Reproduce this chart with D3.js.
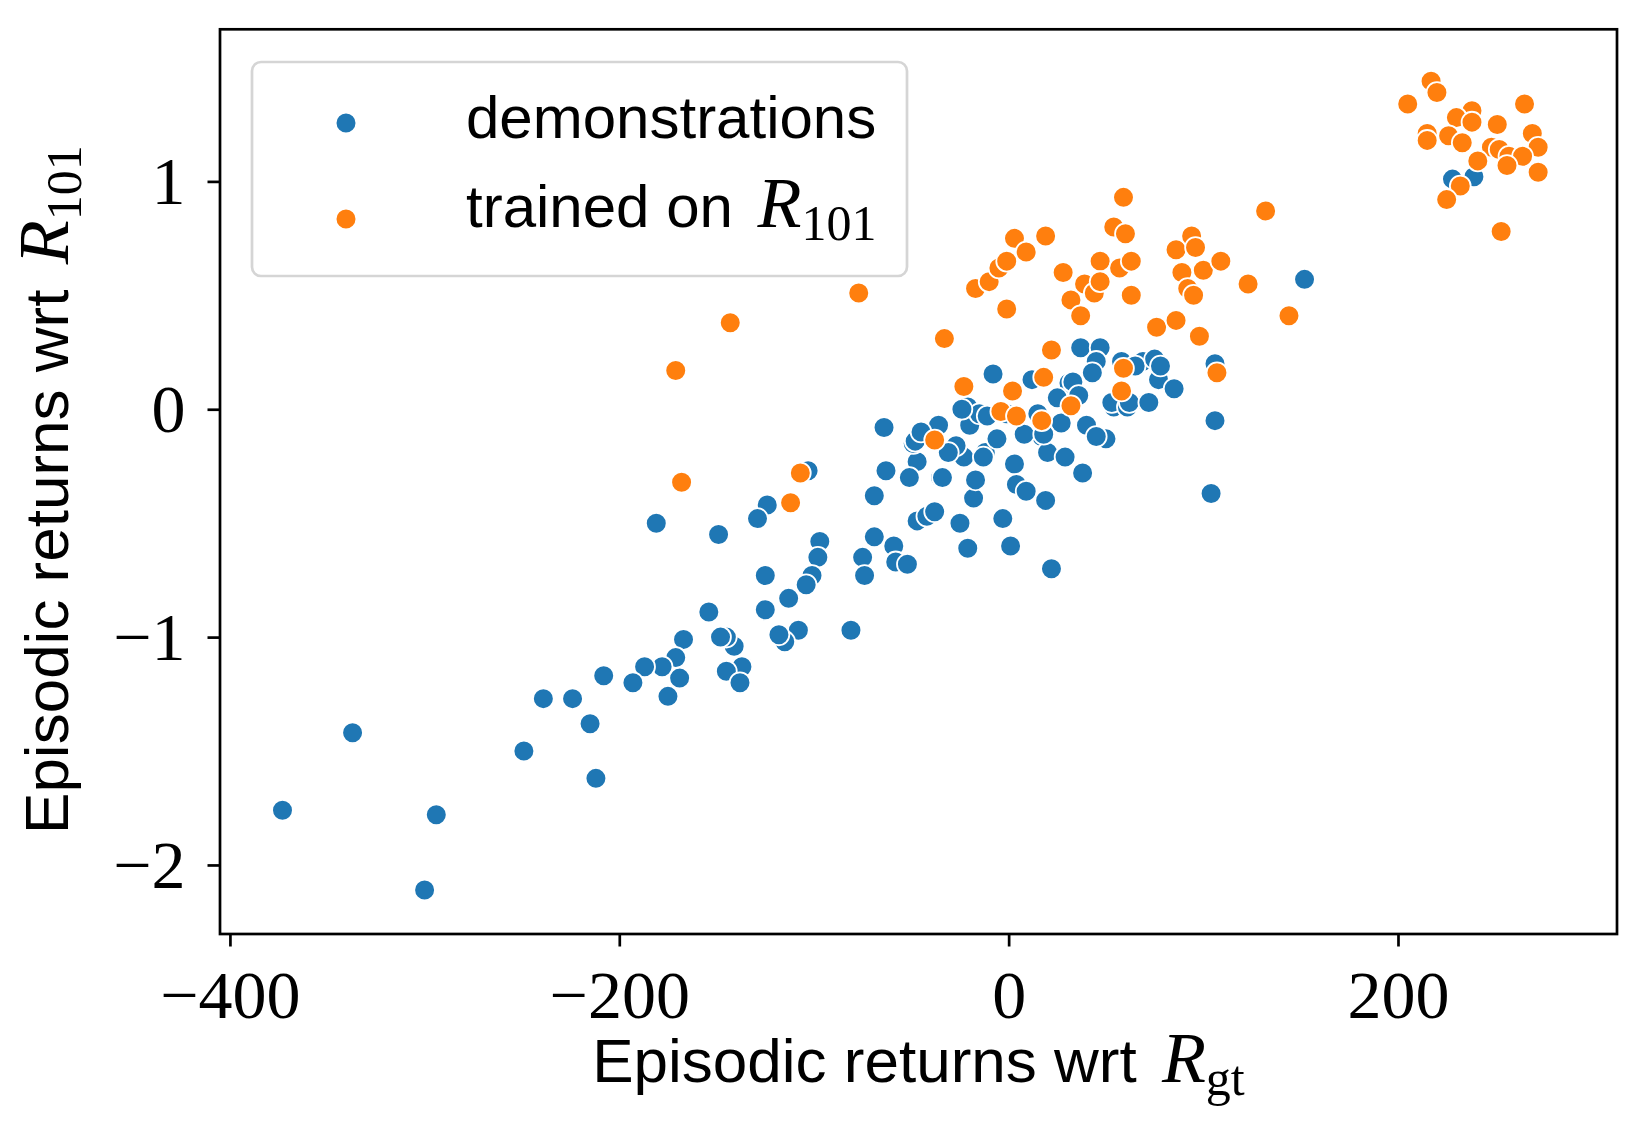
<!DOCTYPE html>
<html>
<head>
<meta charset="utf-8">
<script src="https://cdn.jsdelivr.net/npm/d3@7"></script>
<style>
  html, body { margin: 0; padding: 0; background: #fff; }
  svg { display: block; }
</style>
</head>
<body>
<svg id="chart" width="1644" height="1135"></svg>
<script>
// ---- Data ----
const demoGt = [
  -373, -337, -294, -300, -249, -239, -224, -215, -212, -208,
  -181, -149, -124, -129, -97, -98, -101, -104, -113, -125, -125, -154,
  -81, -108, -115, -118, -167, -141, -145, -148, -137, -145, -138, -169,
  -171, -178, -187, -193, -175, -75, -74, -69, -59, -58, -52, -47, -42,
  -38, -47, -35, -51, -49, -44, -36, -103,
  -64, -63, -69, -8, 37, 47, 45, 69, 77, 85, 71, 106, 106, 104, 38, 50,
  40, 54, 19, 22, 1, -3, -21, -18, -25, -48, -34, -23, -12, -20, -6, 3,
  4, 9, 17, 20, 29, 31, 45, 53, 61, -21, -15,
  -27, -31, -11, -1, 8, 12, 15, 25, 27, 33, 36, 43, 58, 62, 65, 72, 75,
  78, 18, -17, -13, -24, -45,
  152, 228, 239
];
const demo101 = [
  -1.76, -1.42, -1.78, -2.11, -1.50, -1.27, -1.27, -1.38, -1.62, -1.17,
  -0.50, -0.55, -0.42, -0.48, -0.58, -0.65, -0.73, -0.77, -0.83, -0.73, -0.88, -0.89,
  -0.97, -0.97, -1.02, -0.99, -1.01, -1.04, -1.00, -1.00, -1.13, -1.15, -1.20, -1.18,
  -1.09, -1.13, -1.13, -1.20, -1.26, -0.65, -0.73, -0.56, -0.60, -0.67, -0.68, -0.49, -0.47,
  -0.45, -0.23, -0.30, -0.30, -0.15, -0.10, -0.07, -0.27,
  -0.08, -0.27, -0.38, 0.155, 0.27, 0.27, 0.21, 0.21, 0.13, 0.09, 0.03, 0.20, -0.05, -0.37, -0.28, -0.13,
  -0.07, 0.01, -0.40, -0.70, -0.60, -0.48, -0.61, -0.39, -0.50, -0.14, -0.30, -0.21, -0.19, -0.07, -0.13, -0.24,
  -0.33, -0.36, -0.12, -0.19, -0.21, 0.115, -0.12, 0.03, 0.01, 0.01, -0.02,
  -0.16, -0.19, -0.03, -0.02, -0.11, 0.13, -0.02, 0.05, -0.06, 0.12, 0.06, 0.16, 0.21, 0.03, 0.19, 0.03, 0.22,
  0.19, -0.11, -0.31, -0.21, 0.00, -0.10,
  0.57, 1.01, 1.02
];
const trainedGt = [
  -171, -168, -143, -112, -107, -77, -33, -38, -23, -17, -10, -5, -1, -1,
  3, 9, 19, -4, 2, 4, 17, 18, 22, 28, 32, 32, 37, 39, 44, 47, 47, 54, 57,
  59, 60, 63, 63, 59, 58, 76, 86, 86, 89, 92, 94, 96, 95, 98, 100, 109,
  107, 123, 132, 144,
  217, 220, 205, 265, 238, 230, 238, 251, 215, 215, 226, 233, 269, 272,
  248, 252, 241, 257, 264, 256, 272, 232, 225, 253
];
const trained101 = [
  0.17, -0.32, 0.38, -0.41, -0.28, 0.51, 0.31, -0.135, 0.10, 0.53, 0.56, 0.62, 0.65, 0.44,
  0.75, 0.69, 0.76, -0.01, 0.08, -0.03, -0.05, 0.14, 0.26, 0.60, 0.48, 0.015, 0.41, 0.55, 0.51, 0.65, 0.56, 0.80, 0.62,
  0.93, 0.77, 0.65, 0.50, 0.18, 0.08, 0.36, 0.39, 0.70, 0.60, 0.53, 0.76, 0.71, 0.50, 0.32, 0.61, 0.65,
  0.16, 0.55, 0.87, 0.41,
  1.44, 1.39, 1.34, 1.34, 1.31, 1.28, 1.26, 1.25, 1.21, 1.18, 1.20, 1.17, 1.21, 1.15,
  1.15, 1.14, 1.09, 1.11, 1.11, 1.07, 1.04, 0.98, 0.92, 0.78
];
const xTicks = [-400, -200, 0, 200];
const yTicks = [-2, -1, 0, 1];
const seriesNames = ["demonstrations", "trained on"];
const seriesColors = ["#1f77b4", "#ff7f0e"];

// ---- Layout ----
const svg = d3.select("#chart");
const plot = { left: 220, right: 1617, top: 29.3, bottom: 934 };
const x = d3.scaleLinear().domain([-405.1, 312.5]).range([plot.left, plot.right]);
const y = d3.scaleLinear().domain([-2.303, 1.6675]).range([plot.bottom, plot.top]);

const serif = "'Liberation Serif', 'DejaVu Serif', serif";
const sans = "'Liberation Sans', Arial, sans-serif";
const minus = v => (v < 0 ? "\u2212" + Math.abs(v) : String(v));

// points
const demo = demoGt.map((d, i) => ({ x: d, y: demo101[i], s: 0 }));
const trained = trainedGt.map((d, i) => ({ x: d, y: trained101[i], s: 1 }));
const pts = demo.concat(trained);

const R = 10.4;
svg.append("g").selectAll("circle").data(pts).join("circle")
  .attr("cx", d => x(d.x)).attr("cy", d => y(d.y))
  .attr("r", R)
  .attr("fill", d => seriesColors[d.s])
  .attr("stroke", "#fff").attr("stroke-width", 1.8);

// axes
const xAxis = d3.axisBottom(x).tickValues(xTicks).tickFormat(minus).tickSize(12.5).tickPadding(10);
const yAxis = d3.axisLeft(y).tickValues(yTicks).tickFormat(minus).tickSize(12.5).tickPadding(22);

const gx = svg.append("g").attr("transform", `translate(0,${plot.bottom})`).call(xAxis);
const gy = svg.append("g").attr("transform", `translate(${plot.left},0)`).call(yAxis);
[gx, gy].forEach(g => {
  g.select(".domain").remove();
  g.selectAll(".tick line").attr("stroke", "#000").attr("stroke-width", 2.7);
  g.selectAll(".tick text").attr("fill", "#000")
    .style("font-family", serif).style("font-size", "68px");
});
gx.selectAll(".tick text").attr("dy", null).attr("y", 84);
gy.selectAll(".tick text").attr("dy", "0.33em");

// frame
svg.append("rect")
  .attr("x", plot.left).attr("y", plot.top)
  .attr("width", plot.right - plot.left).attr("height", plot.bottom - plot.top)
  .attr("fill", "none").attr("stroke", "#000").attr("stroke-width", 2.7);

// axis labels
function mathLabel(sel, prefix, sub) {
  sel.append("tspan").text(prefix).style("font-family", sans);
  sel.append("tspan").text("R").attr("dx", 8).style("font-family", serif).style("font-style", "italic").style("font-size", "72px");
  sel.append("tspan").text(sub).style("font-family", serif).style("font-size", "50px").attr("dy", 13);
}
const xl = svg.append("text")
  .attr("x", (plot.left + plot.right) / 2).attr("y", 1082)
  .attr("text-anchor", "middle").attr("fill", "#000").style("font-size", "62px");
mathLabel(xl, "Episodic returns wrt ", "gt");

const yl = svg.append("text")
  .attr("transform", `translate(68,${(plot.top + plot.bottom) / 2 + 8}) rotate(-90)`)
  .attr("text-anchor", "middle").attr("fill", "#000").style("font-size", "62px");
mathLabel(yl, "Episodic returns wrt ", "101");

// legend
const lg = svg.append("g");
lg.append("rect")
  .attr("x", 252).attr("y", 62).attr("width", 655).attr("height", 214)
  .attr("rx", 9).attr("fill", "#fff").attr("fill-opacity", 0.8)
  .attr("stroke", "#d5d5d5").attr("stroke-width", 2.7);
const legendRows = [
  { c: seriesColors[0], cy: 123, base: 138, name: seriesNames[0], sub: null },
  { c: seriesColors[1], cy: 219, base: 227, name: seriesNames[1], sub: "101" }
];
legendRows.forEach(r => {
  lg.append("circle").attr("cx", 346).attr("cy", r.cy).attr("r", R)
    .attr("fill", r.c).attr("stroke", "#fff").attr("stroke-width", 1.8);
  const t = lg.append("text").attr("x", 466).attr("y", r.base).attr("fill", "#000")
    .style("font-size", "60px");
  if (r.sub) mathLabel(t, r.name + " ", r.sub);
  else t.append("tspan").text(r.name).style("font-family", sans);
});
</script>
</body>
</html>
